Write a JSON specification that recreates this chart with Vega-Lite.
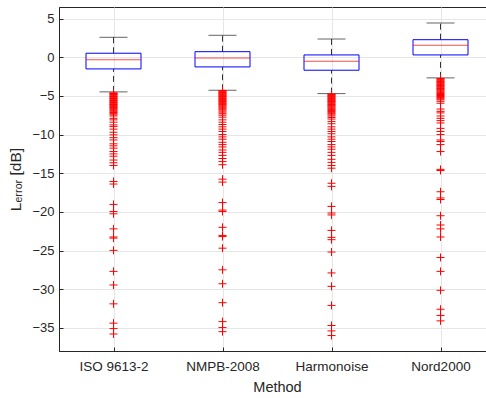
{
  "$schema": "https://vega.github.io/schema/vega-lite/v6.json",
  "autosize": "none",
  "width": 429,
  "height": 344,
  "padding": {"left": 59, "top": 7, "right": 0, "bottom": 47},
  "background": "white",
  "config": {
    "view": {"stroke": "#262626", "strokeWidth": 1},
    "font": "Liberation Sans",
    "axis": {
      "labelFont": "Liberation Sans",
      "titleFont": "Liberation Sans",
      "labelFontSize": 13.5,
      "titleFontSize": 14.5,
      "labelColor": "#262626",
      "titleColor": "#262626",
      "titleFontWeight": "normal",
      "domainColor": "#262626",
      "tickColor": "#262626",
      "gridColor": "#e6e6e6",
      "gridWidth": 1
    }
  },
  "datasets": {
    "boxes": [
      {"method": "ISO 9613-2", "lower": -4.48, "q1": -1.51, "median": -0.31, "q3": 0.52, "upper": 2.58},
      {"method": "NMPB-2008", "lower": -4.27, "q1": -1.25, "median": -0.09, "q3": 0.72, "upper": 2.84},
      {"method": "Harmonoise", "lower": -4.7, "q1": -1.68, "median": -0.52, "q3": 0.3, "upper": 2.36},
      {"method": "Nord2000", "lower": -2.67, "q1": 0.3, "median": 1.55, "q3": 2.27, "upper": 4.43}
    ],
    "outliers": [
      {"method": "ISO 9613-2", "value": -4.6}, {"method": "ISO 9613-2", "value": -4.68}, {"method": "ISO 9613-2", "value": -4.75}, {"method": "ISO 9613-2", "value": -4.83}, {"method": "ISO 9613-2", "value": -4.9}, {"method": "ISO 9613-2", "value": -5.0}, {"method": "ISO 9613-2", "value": -5.08}, {"method": "ISO 9613-2", "value": -5.15}, {"method": "ISO 9613-2", "value": -5.25}, {"method": "ISO 9613-2", "value": -5.33}, {"method": "ISO 9613-2", "value": -5.4}, {"method": "ISO 9613-2", "value": -5.5}, {"method": "ISO 9613-2", "value": -5.6}, {"method": "ISO 9613-2", "value": -5.68}, {"method": "ISO 9613-2", "value": -5.77}, {"method": "ISO 9613-2", "value": -5.85}, {"method": "ISO 9613-2", "value": -5.95}, {"method": "ISO 9613-2", "value": -6.05}, {"method": "ISO 9613-2", "value": -6.12}, {"method": "ISO 9613-2", "value": -6.22}, {"method": "ISO 9613-2", "value": -6.3}, {"method": "ISO 9613-2", "value": -6.4}, {"method": "ISO 9613-2", "value": -6.5}, {"method": "ISO 9613-2", "value": -6.6}, {"method": "ISO 9613-2", "value": -6.7}, {"method": "ISO 9613-2", "value": -6.8}, {"method": "ISO 9613-2", "value": -6.92}, {"method": "ISO 9613-2", "value": -7.05}, {"method": "ISO 9613-2", "value": -7.15}, {"method": "ISO 9613-2", "value": -7.3}, {"method": "ISO 9613-2", "value": -7.45}, {"method": "ISO 9613-2", "value": -7.6},
      {"method": "ISO 9613-2", "value": -7.9}, {"method": "ISO 9613-2", "value": -8.1}, {"method": "ISO 9613-2", "value": -8.4}, {"method": "ISO 9613-2", "value": -8.75}, {"method": "ISO 9613-2", "value": -8.97}, {"method": "ISO 9613-2", "value": -9.3}, {"method": "ISO 9613-2", "value": -9.7}, {"method": "ISO 9613-2", "value": -10.04}, {"method": "ISO 9613-2", "value": -10.4}, {"method": "ISO 9613-2", "value": -10.7}, {"method": "ISO 9613-2", "value": -11.2}, {"method": "ISO 9613-2", "value": -11.46}, {"method": "ISO 9613-2", "value": -11.76}, {"method": "ISO 9613-2", "value": -12.2}, {"method": "ISO 9613-2", "value": -12.5}, {"method": "ISO 9613-2", "value": -12.8}, {"method": "ISO 9613-2", "value": -13.3}, {"method": "ISO 9613-2", "value": -13.65}, {"method": "ISO 9613-2", "value": -14.0},
      {"method": "ISO 9613-2", "value": -16.07}, {"method": "ISO 9613-2", "value": -16.4}, {"method": "ISO 9613-2", "value": -19.04}, {"method": "ISO 9613-2", "value": -19.95}, {"method": "ISO 9613-2", "value": -20.25}, {"method": "ISO 9613-2", "value": -22.2}, {"method": "ISO 9613-2", "value": -23.25}, {"method": "ISO 9613-2", "value": -23.4}, {"method": "ISO 9613-2", "value": -24.98}, {"method": "ISO 9613-2", "value": -27.7}, {"method": "ISO 9613-2", "value": -29.46}, {"method": "ISO 9613-2", "value": -31.9}, {"method": "ISO 9613-2", "value": -34.4}, {"method": "ISO 9613-2", "value": -35.1}, {"method": "ISO 9613-2", "value": -35.8},

      {"method": "NMPB-2008", "value": -4.3}, {"method": "NMPB-2008", "value": -4.38}, {"method": "NMPB-2008", "value": -4.47}, {"method": "NMPB-2008", "value": -4.55}, {"method": "NMPB-2008", "value": -4.63}, {"method": "NMPB-2008", "value": -4.72}, {"method": "NMPB-2008", "value": -4.8}, {"method": "NMPB-2008", "value": -4.9}, {"method": "NMPB-2008", "value": -4.98}, {"method": "NMPB-2008", "value": -5.07}, {"method": "NMPB-2008", "value": -5.16}, {"method": "NMPB-2008", "value": -5.25}, {"method": "NMPB-2008", "value": -5.35}, {"method": "NMPB-2008", "value": -5.44}, {"method": "NMPB-2008", "value": -5.52}, {"method": "NMPB-2008", "value": -5.62}, {"method": "NMPB-2008", "value": -5.72}, {"method": "NMPB-2008", "value": -5.8}, {"method": "NMPB-2008", "value": -5.9}, {"method": "NMPB-2008", "value": -6.0}, {"method": "NMPB-2008", "value": -6.1}, {"method": "NMPB-2008", "value": -6.2}, {"method": "NMPB-2008", "value": -6.32}, {"method": "NMPB-2008", "value": -6.43}, {"method": "NMPB-2008", "value": -6.55}, {"method": "NMPB-2008", "value": -6.67}, {"method": "NMPB-2008", "value": -6.8}, {"method": "NMPB-2008", "value": -6.95}, {"method": "NMPB-2008", "value": -7.1}, {"method": "NMPB-2008", "value": -7.3}, {"method": "NMPB-2008", "value": -7.5}, {"method": "NMPB-2008", "value": -7.75},
      {"method": "NMPB-2008", "value": -8.1}, {"method": "NMPB-2008", "value": -8.4}, {"method": "NMPB-2008", "value": -8.7}, {"method": "NMPB-2008", "value": -9.0}, {"method": "NMPB-2008", "value": -9.3}, {"method": "NMPB-2008", "value": -9.6}, {"method": "NMPB-2008", "value": -10.0}, {"method": "NMPB-2008", "value": -10.3}, {"method": "NMPB-2008", "value": -10.6}, {"method": "NMPB-2008", "value": -11.0}, {"method": "NMPB-2008", "value": -11.3}, {"method": "NMPB-2008", "value": -11.6}, {"method": "NMPB-2008", "value": -12.0}, {"method": "NMPB-2008", "value": -12.3}, {"method": "NMPB-2008", "value": -12.7}, {"method": "NMPB-2008", "value": -13.1}, {"method": "NMPB-2008", "value": -13.5}, {"method": "NMPB-2008", "value": -13.9},
      {"method": "NMPB-2008", "value": -15.77}, {"method": "NMPB-2008", "value": -16.15}, {"method": "NMPB-2008", "value": -18.8}, {"method": "NMPB-2008", "value": -19.77}, {"method": "NMPB-2008", "value": -19.95}, {"method": "NMPB-2008", "value": -22.0}, {"method": "NMPB-2008", "value": -23.05}, {"method": "NMPB-2008", "value": -23.2}, {"method": "NMPB-2008", "value": -24.7}, {"method": "NMPB-2008", "value": -27.5}, {"method": "NMPB-2008", "value": -29.3}, {"method": "NMPB-2008", "value": -31.75}, {"method": "NMPB-2008", "value": -34.2}, {"method": "NMPB-2008", "value": -34.97}, {"method": "NMPB-2008", "value": -35.5},

      {"method": "Harmonoise", "value": -4.75}, {"method": "Harmonoise", "value": -4.83}, {"method": "Harmonoise", "value": -4.92}, {"method": "Harmonoise", "value": -5.0}, {"method": "Harmonoise", "value": -5.1}, {"method": "Harmonoise", "value": -5.18}, {"method": "Harmonoise", "value": -5.27}, {"method": "Harmonoise", "value": -5.36}, {"method": "Harmonoise", "value": -5.45}, {"method": "Harmonoise", "value": -5.55}, {"method": "Harmonoise", "value": -5.63}, {"method": "Harmonoise", "value": -5.72}, {"method": "Harmonoise", "value": -5.82}, {"method": "Harmonoise", "value": -5.92}, {"method": "Harmonoise", "value": -6.02}, {"method": "Harmonoise", "value": -6.12}, {"method": "Harmonoise", "value": -6.22}, {"method": "Harmonoise", "value": -6.33}, {"method": "Harmonoise", "value": -6.43}, {"method": "Harmonoise", "value": -6.55}, {"method": "Harmonoise", "value": -6.66}, {"method": "Harmonoise", "value": -6.78}, {"method": "Harmonoise", "value": -6.9}, {"method": "Harmonoise", "value": -7.03}, {"method": "Harmonoise", "value": -7.17}, {"method": "Harmonoise", "value": -7.3}, {"method": "Harmonoise", "value": -7.45}, {"method": "Harmonoise", "value": -7.6}, {"method": "Harmonoise", "value": -7.8}, {"method": "Harmonoise", "value": -8.0},
      {"method": "Harmonoise", "value": -8.3}, {"method": "Harmonoise", "value": -8.6}, {"method": "Harmonoise", "value": -9.0}, {"method": "Harmonoise", "value": -9.3}, {"method": "Harmonoise", "value": -9.6}, {"method": "Harmonoise", "value": -9.9}, {"method": "Harmonoise", "value": -10.3}, {"method": "Harmonoise", "value": -10.6}, {"method": "Harmonoise", "value": -10.9}, {"method": "Harmonoise", "value": -11.3}, {"method": "Harmonoise", "value": -11.6}, {"method": "Harmonoise", "value": -11.9}, {"method": "Harmonoise", "value": -12.3}, {"method": "Harmonoise", "value": -12.7}, {"method": "Harmonoise", "value": -13.2}, {"method": "Harmonoise", "value": -13.6}, {"method": "Harmonoise", "value": -14.0}, {"method": "Harmonoise", "value": -14.35},
      {"method": "Harmonoise", "value": -16.3}, {"method": "Harmonoise", "value": -16.7}, {"method": "Harmonoise", "value": -19.3}, {"method": "Harmonoise", "value": -20.15}, {"method": "Harmonoise", "value": -20.4}, {"method": "Harmonoise", "value": -22.4}, {"method": "Harmonoise", "value": -23.3}, {"method": "Harmonoise", "value": -23.6}, {"method": "Harmonoise", "value": -25.2}, {"method": "Harmonoise", "value": -27.9}, {"method": "Harmonoise", "value": -29.64}, {"method": "Harmonoise", "value": -32.1}, {"method": "Harmonoise", "value": -34.7}, {"method": "Harmonoise", "value": -35.4}, {"method": "Harmonoise", "value": -36.0},

      {"method": "Nord2000", "value": -2.75}, {"method": "Nord2000", "value": -2.85}, {"method": "Nord2000", "value": -2.95}, {"method": "Nord2000", "value": -3.05}, {"method": "Nord2000", "value": -3.15}, {"method": "Nord2000", "value": -3.25}, {"method": "Nord2000", "value": -3.35}, {"method": "Nord2000", "value": -3.45}, {"method": "Nord2000", "value": -3.55}, {"method": "Nord2000", "value": -3.65}, {"method": "Nord2000", "value": -3.75}, {"method": "Nord2000", "value": -3.85}, {"method": "Nord2000", "value": -3.95}, {"method": "Nord2000", "value": -4.05}, {"method": "Nord2000", "value": -4.15}, {"method": "Nord2000", "value": -4.25}, {"method": "Nord2000", "value": -4.36}, {"method": "Nord2000", "value": -4.47}, {"method": "Nord2000", "value": -4.58}, {"method": "Nord2000", "value": -4.7}, {"method": "Nord2000", "value": -4.82}, {"method": "Nord2000", "value": -4.95}, {"method": "Nord2000", "value": -5.08}, {"method": "Nord2000", "value": -5.22}, {"method": "Nord2000", "value": -5.36}, {"method": "Nord2000", "value": -5.5},
      {"method": "Nord2000", "value": -5.7}, {"method": "Nord2000", "value": -5.95}, {"method": "Nord2000", "value": -6.7}, {"method": "Nord2000", "value": -7.0}, {"method": "Nord2000", "value": -7.2}, {"method": "Nord2000", "value": -7.6}, {"method": "Nord2000", "value": -7.9}, {"method": "Nord2000", "value": -8.2}, {"method": "Nord2000", "value": -8.5}, {"method": "Nord2000", "value": -9.2}, {"method": "Nord2000", "value": -9.6}, {"method": "Nord2000", "value": -10.0}, {"method": "Nord2000", "value": -10.7}, {"method": "Nord2000", "value": -10.9}, {"method": "Nord2000", "value": -11.3}, {"method": "Nord2000", "value": -12.2},
      {"method": "Nord2000", "value": -14.5}, {"method": "Nord2000", "value": -14.65}, {"method": "Nord2000", "value": -17.4}, {"method": "Nord2000", "value": -18.2}, {"method": "Nord2000", "value": -18.4}, {"method": "Nord2000", "value": -20.5}, {"method": "Nord2000", "value": -21.7}, {"method": "Nord2000", "value": -22.2}, {"method": "Nord2000", "value": -23.25}, {"method": "Nord2000", "value": -25.9}, {"method": "Nord2000", "value": -27.7}, {"method": "Nord2000", "value": -30.15}, {"method": "Nord2000", "value": -32.6}, {"method": "Nord2000", "value": -33.4}, {"method": "Nord2000", "value": -34.1}
    ]
  },
  "encoding": {
    "x": {
      "field": "method",
      "type": "nominal",
      "sort": ["ISO 9613-2", "NMPB-2008", "Harmonoise", "Nord2000"],
      "scale": {"type": "point", "padding": 0.5, "range": [0, 436]},
      "axis": {"title": "Method", "labelAngle": 0, "grid": true, "tickSize": -4, "labelPadding": 12, "titlePadding": 8, "domainColor": "#262626"}
    }
  },
  "layer": [
    {
      "data": {"name": "boxes"},
      "mark": {"type": "rule", "color": "#333333", "strokeWidth": 1, "strokeDash": [6, 4]},
      "encoding": {
        "y": {
          "field": "q3", "type": "quantitative",
          "scale": {"domain": [-38, 6.5], "nice": false, "zero": false},
          "axis": {"title": "Lₑᵣᵣₒᵣ [dB]", "titleFontSize": 15.5, "labelFontSize": 13, "values": [-35, -30, -25, -20, -15, -10, -5, 0, 5], "grid": true, "tickSize": -4, "labelPadding": 9, "titlePadding": 8}
        },
        "y2": {"field": "upper"}
      }
    },
    {
      "data": {"name": "boxes"},
      "mark": {"type": "rule", "color": "#333333", "strokeWidth": 1, "strokeDash": [6, 4]},
      "encoding": {"y": {"field": "lower", "type": "quantitative"}, "y2": {"field": "q1"}}
    },
    {
      "data": {"name": "boxes"},
      "mark": {"type": "tick", "color": "#222222", "size": 28, "thickness": 1},
      "encoding": {"y": {"field": "upper", "type": "quantitative"}}
    },
    {
      "data": {"name": "boxes"},
      "mark": {"type": "tick", "color": "#222222", "size": 28, "thickness": 1},
      "encoding": {"y": {"field": "lower", "type": "quantitative"}}
    },
    {
      "data": {"name": "boxes"},
      "mark": {"type": "bar", "size": 55, "fillOpacity": 0, "fill": "white", "stroke": "#0000ff", "strokeWidth": 1},
      "encoding": {"y": {"field": "q1", "type": "quantitative"}, "y2": {"field": "q3"}}
    },
    {
      "data": {"name": "boxes"},
      "mark": {"type": "tick", "color": "#ff0000", "size": 55, "thickness": 1},
      "encoding": {"y": {"field": "median", "type": "quantitative"}}
    },
    {
      "data": {"name": "outliers"},
      "mark": {"type": "point", "shape": "M-1,0H1M0,-1V1", "size": 64, "filled": false, "stroke": "#ff0000", "strokeWidth": 1, "opacity": 1},
      "encoding": {"y": {"field": "value", "type": "quantitative"}}
    }
  ]
}
